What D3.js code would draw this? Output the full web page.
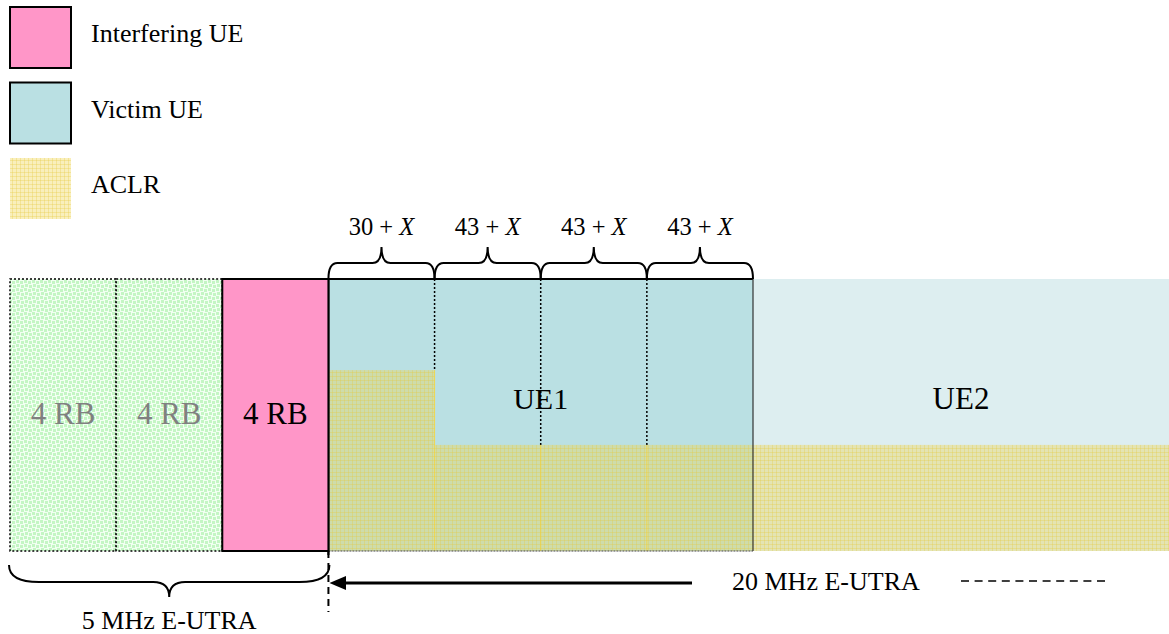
<!DOCTYPE html>
<html><head><meta charset="utf-8">
<script src="https://cdn.jsdelivr.net/npm/d3@7"></script>
<style>body{margin:0;background:#fff}svg{display:block}text{font-family:"Liberation Serif","Times New Roman",serif}</style>
</head><body><svg id="c" width="1169" height="634"></svg>
<script>
// ---- data ----
const legendItems = ["Interfering UE", "Victim UE", "ACLR"];
const rbLabels = ["4 RB", "4 RB", "4 RB"];
const rbRole = ["unused", "unused", "interferer"];
const ue1SegLabels = ["30 + ", "43 + ", "43 + ", "43 + "];
const ue1AclrLevel = [66.5, 39, 39, 39];
const ue2AclrLevel = 39;
const victimLevel = 100;
const ueLabels = ["UE1", "UE2"];
const bandLabels = ["5 MHz E-UTRA", "20 MHz E-UTRA"];

const svg = d3.select("#c");
const x = d3.scaleLinear().domain([0, 7]).range([10, 753]);
const y = d3.scaleLinear().domain([0, 100]).range([551, 279]);
const ue2End = x.invert(1169);

const defs = svg.append("defs");
const pa = defs.append("pattern").attr("id", "aclr").attr("patternUnits", "userSpaceOnUse").attr("width", 4).attr("height", 4);
pa.append("rect").attr("width", 4).attr("height", 4).attr("fill", "rgba(238,214,80,0.38)");
pa.append("rect").attr("width", 4).attr("height", 1).attr("fill", "rgba(230,200,60,0.30)");
pa.append("rect").attr("width", 1).attr("height", 4).attr("fill", "rgba(230,200,60,0.30)");
const pg = defs.append("pattern").attr("id", "green").attr("patternUnits", "userSpaceOnUse").attr("width", 8).attr("height", 8);
pg.append("rect").attr("width", 8).attr("height", 8).attr("fill", "#f2fff2");
[[0,0],[4,1],[1,4],[5,5]].forEach(p => pg.append("rect").attr("x", p[0]).attr("y", p[1]).attr("width", 3).attr("height", 3).attr("fill", "#c4f6c4"));

const colors = {pink: "#ff96c8", victim: "#bae0e3", ue2: "#ddeef0"};

// ---- legend ----
const lg = svg.append("g");
legendItems.forEach((t, i) => {
  const yy = 7 + i * 75.5;
  const r = lg.append("rect").attr("x", 10).attr("y", yy).attr("width", 61).attr("height", 61);
  if (i === 0) r.attr("fill", colors.pink).attr("stroke", "#000").attr("stroke-width", 2);
  else if (i === 1) r.attr("fill", colors.victim).attr("stroke", "#000").attr("stroke-width", 2);
  else r.attr("fill", "url(#aclr)");
  lg.append("text").attr("x", 91).attr("y", yy + 35).attr("font-size", 26).attr("fill", "#000").text(t);
});

// ---- UE2 region ----
svg.append("rect").attr("x", x(7)).attr("y", y(victimLevel)).attr("width", x(ue2End) - x(7)).attr("height", y(0) - y(victimLevel)).attr("fill", colors.ue2);

// ---- UE1 region ----
svg.append("rect").attr("x", x(3)).attr("y", y(victimLevel)).attr("width", x(7) - x(3)).attr("height", y(0) - y(victimLevel)).attr("fill", colors.victim);

// dividers
ue1SegLabels.forEach((t, i) => {
  if (i === 0) return;
  const bottom = Math.max(ue1AclrLevel[i - 1], ue1AclrLevel[i]);
  svg.append("line").attr("x1", x(3 + i)).attr("x2", x(3 + i)).attr("y1", y(victimLevel)).attr("y2", y(bottom))
    .attr("stroke", "#000").attr("stroke-width", 1.5).attr("stroke-dasharray", "2,2");
  svg.append("line").attr("x1", x(3 + i)).attr("x2", x(3 + i)).attr("y1", y(bottom)).attr("y2", y(0))
    .attr("stroke", "#f0d850").attr("stroke-width", 1);
});

// ACLR
ue1AclrLevel.forEach((lv, i) => {
  svg.append("rect").attr("x", x(3 + i)).attr("y", y(lv)).attr("width", x(4 + i) - x(3 + i)).attr("height", y(0) - y(lv)).attr("fill", "url(#aclr)");
});
svg.append("rect").attr("x", x(7)).attr("y", y(ue2AclrLevel)).attr("width", x(ue2End) - x(7)).attr("height", y(0) - y(ue2AclrLevel)).attr("fill", "url(#aclr)");

// UE1 borders
svg.append("line").attr("x1", x(3)).attr("x2", x(7)).attr("y1", y(victimLevel)).attr("y2", y(victimLevel)).attr("stroke", "#000").attr("stroke-width", 2);
svg.append("line").attr("x1", x(3)).attr("x2", x(3)).attr("y1", y(victimLevel)).attr("y2", y(0) + 4).attr("stroke", "#000").attr("stroke-width", 2);
svg.append("line").attr("x1", x(7)).attr("x2", x(7)).attr("y1", y(victimLevel)).attr("y2", y(0)).attr("stroke", "#333").attr("stroke-width", 1.2);
svg.append("line").attr("x1", x(3)).attr("x2", x(7)).attr("y1", y(0)).attr("y2", y(0)).attr("stroke", "#444").attr("stroke-width", 1).attr("stroke-dasharray", "2,1");

// ---- RB blocks ----
rbLabels.forEach((t, i) => {
  const r = svg.append("rect").attr("x", x(i)).attr("y", y(victimLevel)).attr("width", x(i + 1) - x(i)).attr("height", y(0) - y(victimLevel));
  if (rbRole[i] === "interferer") r.attr("fill", colors.pink).attr("stroke", "#000").attr("stroke-width", 2);
  else r.attr("fill", "url(#green)").attr("stroke", "#000").attr("stroke-width", 1.5).attr("stroke-dasharray", "2,2");
  svg.append("text").attr("x", (x(i) + x(i + 1)) / 2).attr("y", 424).attr("text-anchor", "middle").attr("font-size", 31)
    .attr("fill", rbRole[i] === "interferer" ? "#000" : "#808080").text(t);
});

// UE labels
svg.append("text").attr("x", (x(3) + x(7)) / 2).attr("y", 409).attr("text-anchor", "middle").attr("font-size", 30).text(ueLabels[0]);
svg.append("text").attr("x", (x(7) + x(ue2End)) / 2).attr("y", 409).attr("text-anchor", "middle").attr("font-size", 31).text(ueLabels[1]);

// ---- top braces ----
function braceUp(x0, x1, yb, yh, yt, r) {
  const xm = (x0 + x1) / 2;
  return `M${x0},${yb} Q${x0},${yh} ${x0 + r},${yh} L${xm - r},${yh} Q${xm},${yh} ${xm},${yt} Q${xm},${yh} ${xm + r},${yh} L${x1 - r},${yh} Q${x1},${yh} ${x1},${yb}`;
}
ue1SegLabels.forEach((t, i) => {
  const x0 = x(3 + i), x1 = x(4 + i);
  svg.append("path").attr("d", braceUp(x0, x1, 279, 263, 247, 9)).attr("fill", "none").attr("stroke", "#000").attr("stroke-width", 2);
  const tx = svg.append("text").attr("x", (x0 + x1) / 2).attr("y", 235).attr("text-anchor", "middle").attr("font-size", 24.5);
  tx.append("tspan").text(t);
  tx.append("tspan").attr("font-style", "italic").text("X");
});

// ---- bottom brace ----
{
  const x0 = x(0) - 1, x1 = x(3) + 1, xm = (x0 + x1) / 2;
  const d = `M${x0},565 Q${x0},582 ${x0 + 30},582 L${xm - 16},582 Q${xm},582 ${xm},597 Q${xm},582 ${xm + 16},582 L${x1 - 30},582 Q${x1},582 ${x1},565`;
  svg.append("path").attr("d", d).attr("fill", "none").attr("stroke", "#000").attr("stroke-width", 2);
  svg.append("text").attr("x", xm).attr("y", 629).attr("text-anchor", "middle").attr("font-size", 26).text(bandLabels[0]);
}

// ---- 20 MHz arrow ----
svg.append("line").attr("x1", x(3)).attr("x2", x(3)).attr("y1", y(0)).attr("y2", 612).attr("stroke", "#000").attr("stroke-width", 2).attr("stroke-dasharray", "7,5");
svg.append("line").attr("x1", 342).attr("x2", 692).attr("y1", 583).attr("y2", 583).attr("stroke", "#000").attr("stroke-width", 3);
svg.append("path").attr("d", `M${x(3) + 1},583 L346,576 L346,590 Z`).attr("fill", "#000");
svg.append("text").attr("x", 732).attr("y", 590).attr("font-size", 26).text(bandLabels[1]);
svg.append("line").attr("x1", 961).attr("x2", 1110).attr("y1", 581).attr("y2", 581).attr("stroke", "#000").attr("stroke-width", 1.5).attr("stroke-dasharray", "8,5.6");
</script></body></html>
